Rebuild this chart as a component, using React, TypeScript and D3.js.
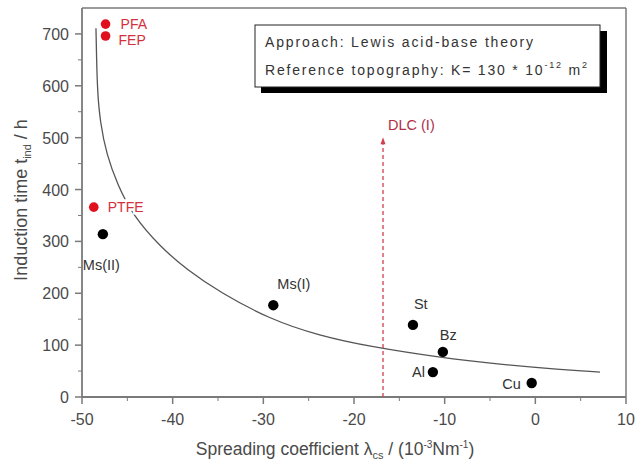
import React from "react";
import * as d3 from "d3";

const W = 644;
const H = 462;

const xTicks = [-50, -40, -30, -20, -10, 0, 10];
const yTicks = [0, 100, 200, 300, 400, 500, 600, 700];

const redNames = ["PFA", "FEP", "PTFE"];
const redX = [-47.4, -47.4, -48.7];
const redY = [719, 696, 366];

const blackNames = ["Ms(II)", "Ms(I)", "St", "Bz", "Al", "Cu"];
const blackX = [-47.7, -28.9, -13.5, -10.2, -11.3, -0.4];
const blackY = [314, 177, 139, 87, 48, 27];

const curveX = [-48.46, -48.4, -48.3, -48.0, -47.3, -46.1, -44.4, -41.4, -38.4, -34.8, -29.3, -23.8, -18.2, -10.5, -3.9, 2.7, 7.13];
const curveY = [711, 660, 590, 530, 468, 410, 350, 290, 245, 202, 150, 118, 97, 76, 63, 53, 48];

const dlcX = -16.8;
const dlcTop = 495;

const FONT = "'Liberation Sans', Arial, sans-serif";

export default function App() {
  const x = d3.scaleLinear().domain([-50, 10]).range([82, 626]);
  const y = d3.scaleLinear().domain([0, 750]).range([397, 8]);
  const line = d3
    .line<[number, number]>()
    .x((d) => x(d[0]))
    .y((d) => y(d[1]))
    .curve(d3.curveBasis);
  const curvePts: [number, number][] = curveX.map((v, i) => [v, curveY[i]]);

  const xMinor = d3.range(-45, 10, 10);
  const yMinor = d3.range(50, 750, 100);
  const axisCol = "#7a7a7a";
  const textCol = "#4a4a4a";
  const red = "#e0101e";
  const redText = "#d4303c";

  const redLabelDx = [15, 13, 14];
  const redLabelDy = [5, 9, 5];
  const blackLabel: { dx: number; dy: number; anchor: string }[] = [
    { dx: -20, dy: 36, anchor: "start" },
    { dx: 4, dy: -16, anchor: "start" },
    { dx: 1, dy: -16, anchor: "start" },
    { dx: -3, dy: -12, anchor: "start" },
    { dx: -8, dy: 5, anchor: "end" },
    { dx: -11, dy: 6, anchor: "end" },
  ];

  return (
    <svg
      width={W}
      height={H}
      style={{ position: "absolute", left: 0, top: 0, background: "#fff" }}
      fontFamily={FONT}
    >
      {/* frame */}
      <line x1={82} x2={626} y1={8} y2={8} stroke={axisCol} strokeWidth={1.5} />
      <line x1={626} x2={626} y1={8} y2={397} stroke={axisCol} strokeWidth={1.5} />
      <line x1={82} x2={82} y1={8} y2={397} stroke={axisCol} strokeWidth={1.8} />
      <line x1={82} x2={626} y1={397} y2={397} stroke={axisCol} strokeWidth={1.8} />

      {/* x ticks */}
      {xTicks.map((t) => (
        <g key={"xt" + t}>
          <line x1={x(t)} x2={x(t)} y1={397} y2={404} stroke={axisCol} strokeWidth={1.5} />
          <text x={x(t)} y={425} textAnchor="middle" fontSize={16} fill={textCol}>
            {t}
          </text>
        </g>
      ))}
      {xMinor.map((t) => (
        <line key={"xm" + t} x1={x(t)} x2={x(t)} y1={397} y2={401} stroke={axisCol} strokeWidth={1} />
      ))}
      {/* y ticks */}
      {yTicks.map((t) => (
        <g key={"yt" + t}>
          <line x1={75} x2={82} y1={y(t)} y2={y(t)} stroke={axisCol} strokeWidth={1.5} />
          <text x={69} y={y(t) + 6} textAnchor="end" fontSize={16} fill={textCol}>
            {t}
          </text>
        </g>
      ))}
      {yMinor.map((t) => (
        <line key={"ym" + t} x1={78} x2={82} y1={y(t)} y2={y(t)} stroke={axisCol} strokeWidth={1} />
      ))}

      {/* axis titles */}
      <text x={335} y={455} textAnchor="middle" fontSize={17.5} fill={textCol}>
        Spreading coefficient λ
        <tspan fontSize={11} dy={4}>cs</tspan>
        <tspan dy={-4}> / (10</tspan>
        <tspan fontSize={10} dy={-7}>-3</tspan>
        <tspan dy={7}>Nm</tspan>
        <tspan fontSize={10} dy={-7}>-1</tspan>
        <tspan dy={7}>)</tspan>
      </text>
      <text
        transform={`translate(27, 200) rotate(-90)`}
        textAnchor="middle"
        fontSize={18}
        fill={textCol}
      >
        Induction time t
        <tspan fontSize={11} dy={4}>ind</tspan>
        <tspan dy={-4}> / h</tspan>
      </text>

      {/* fitted curve */}
      <path d={line(curvePts) || ""} fill="none" stroke="#555" strokeWidth={1.3} />

      {/* DLC arrow */}
      <line
        x1={x(dlcX)}
        x2={x(dlcX)}
        y1={y(0)}
        y2={y(dlcTop) + 4}
        stroke="#d04050"
        strokeWidth={1.3}
        strokeDasharray="4,3"
      />
      <path d={`M${x(dlcX)},${y(dlcTop) - 3} l-2.5,7 l5,0 z`} fill="#d04050" />
      <text x={x(dlcX) + 5} y={y(dlcTop) - 10} fontSize={14.5} fill="#b03048">
        DLC (I)
      </text>

      {/* red points */}
      {redNames.map((n, i) => (
        <g key={n}>
          <circle cx={x(redX[i])} cy={y(redY[i])} r={4.8} fill={red} />
          <text
            x={x(redX[i]) + redLabelDx[i]}
            y={y(redY[i]) + redLabelDy[i]}
            fontSize={14}
            fill={redText}
            stroke="#fff"
            strokeWidth={n === "PTFE" ? 5 : 0}
            style={{ paintOrder: "stroke" }}
          >
            {n}
          </text>
        </g>
      ))}

      {/* black points */}
      {blackNames.map((n, i) => (
        <g key={n}>
          <circle cx={x(blackX[i])} cy={y(blackY[i])} r={5.2} fill="#000" />
          <text
            x={x(blackX[i]) + blackLabel[i].dx}
            y={y(blackY[i]) + blackLabel[i].dy}
            textAnchor={blackLabel[i].anchor as any}
            fontSize={14.5}
            fill="#333"
          >
            {n}
          </text>
        </g>
      ))}

      {/* annotation box */}
      <rect x={261} y={31} width={346} height={62} fill="#000" />
      <rect x={255} y={25} width={345} height={62} fill="#fff" stroke="#222" strokeWidth={1} />
      <text x={265} y={47} fontSize={14} fill="#333" textLength={268} lengthAdjust="spacing">
        Approach: Lewis acid-base theory
      </text>
      <text x={265} y={75} fontSize={14} fill="#333" textLength={322} lengthAdjust="spacing">
        Reference topography: K= 130 * 10
        <tspan fontSize={9} dy={-7}>-12</tspan>
        <tspan dy={7}> m</tspan>
        <tspan fontSize={9} dy={-7}>2</tspan>
      </text>
    </svg>
  );
}
